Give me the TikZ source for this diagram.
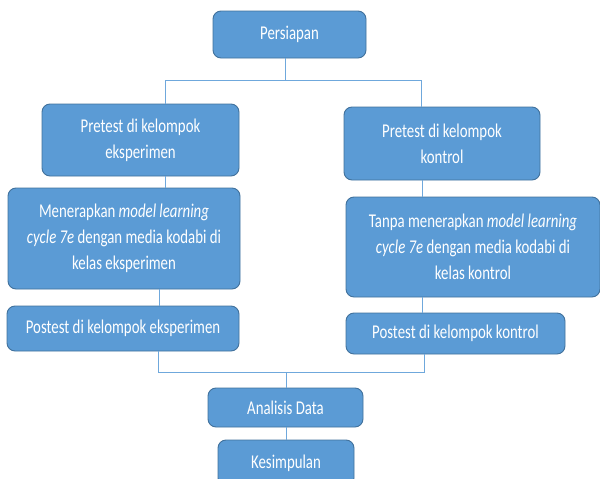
\documentclass[tikz,border=0pt]{standalone}
\usepackage{fontspec}
\setmainfont{Carlito}[FakeStretch=0.76]
\definecolor{boxfill}{HTML}{5B9BD5}
\definecolor{boxline}{HTML}{41719C}
\definecolor{linkblue}{HTML}{6FA8DC}
\begin{document}
\begin{tikzpicture}[x=1pt,y=-1pt,
  box/.style={draw=boxline, line width=0.9pt, fill=boxfill, rounded corners=8pt,
    text=white, align=center, inner sep=0pt, font=\fontsize{19.5}{26}\selectfont},
  link/.style={draw=linkblue, line width=1pt}]
\useasboundingbox (0,0) rectangle (600,479);
\clip (0,0) rectangle (600,479);
% boxes
\node[box, minimum width=153pt, minimum height=47pt] (p) at (289.5,34.5) {Persiapan};
\node[box, minimum width=197pt, minimum height=72pt] (pe) at (140.5,140) {Pretest di kelompok\\eksperimen};
\node[box, minimum width=196pt, minimum height=73pt] (pk) at (442,143.5) {Pretest di kelompok\\kontrol};
\node[box, minimum width=232pt, minimum height=101pt] (me) at (124,238.5) {Menerapkan \textit{model learning}\\\textit{cycle 7e} dengan media kodabi di\\kelas eksperimen};
\node[box, minimum width=254pt, minimum height=100pt] (tk) at (473,247) {Tanpa menerapkan \textit{model learning}\\\textit{cycle 7e} dengan media kodabi di\\kelas kontrol};
\node[box, minimum width=232pt, minimum height=45pt] (poe) at (123,328.5) {Postest di kelompok eksperimen};
\node[box, minimum width=219pt, minimum height=41pt] (pok) at (455.5,333.5) {Postest di kelompok kontrol};
\node[box, minimum width=155pt, minimum height=39pt] (ad) at (285.5,407.5) {Analisis Data};
\node[box, minimum width=136pt, minimum height=46pt] (ks) at (286,463) {Kesimpulan};
% junction coordinates
\coordinate (jt) at (285,80);
\coordinate (jl) at (165,80);
\coordinate (jr) at (421,80);
\coordinate (xl1) at (165,0);
\coordinate (xl2) at (159,0);
\coordinate (xr) at (422,0);
\coordinate (bl) at (158,372);
\coordinate (br) at (424,372);
\coordinate (bc) at (286,372);
% connectors
\draw[link] (p.south -| jt) -- (jt);
\draw[link] (jl) -- (jr);
\draw[link] (jl) -- (pe.north -| jl);
\draw[link] (jr) -- (pk.north -| jr);
\draw[link] (pe.south -| xl1) -- (me.north -| xl1);
\draw[link] (pk.south -| xr) -- (tk.north -| xr);
\draw[link] (me.south -| xl2) -- (poe.north -| xl2);
\draw[link] (tk.south -| xr) -- (pok.north -| xr);
\draw[link] (poe.south -| bl) -- (bl) -- (br) -- (pok.south -| br);
\draw[link] (bc) -- (ad.north -| bc);
\draw[link] (ad.south -| bc) -- (ks.north -| bc);
\end{tikzpicture}
\end{document}
